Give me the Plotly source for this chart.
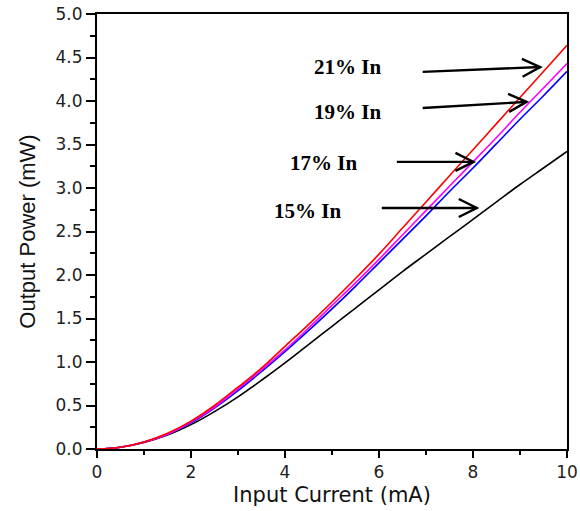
import plotly.graph_objects as go

# Input current (mA)
current = [0, 0.5, 1, 1.5, 2, 2.5, 3, 3.5, 4, 4.5, 5, 5.5, 6, 6.5, 7, 7.5, 8, 8.5, 9, 9.5, 10]

# Output power (mW) for each indium composition
p_in15 = [0, 0.02, 0.075, 0.16, 0.28, 0.43, 0.60, 0.79, 0.99, 1.20, 1.41, 1.62, 1.83, 2.04, 2.24, 2.44, 2.64, 2.84, 3.04, 3.23, 3.42]
p_in17 = [0, 0.02, 0.08, 0.17, 0.30, 0.47, 0.67, 0.89, 1.12, 1.36, 1.61, 1.87, 2.14, 2.41, 2.68, 2.96, 3.23, 3.51, 3.79, 4.06, 4.34]
p_in19 = [0, 0.02, 0.08, 0.17, 0.31, 0.48, 0.69, 0.91, 1.14, 1.39, 1.65, 1.91, 2.18, 2.46, 2.74, 3.02, 3.30, 3.58, 3.87, 4.15, 4.43]
p_in21 = [0, 0.02, 0.08, 0.18, 0.32, 0.50, 0.71, 0.93, 1.18, 1.43, 1.69, 1.96, 2.24, 2.54, 2.84, 3.14, 3.44, 3.74, 4.04, 4.34, 4.64]

series = [
    ("15% In", p_in15, "#000000"),
    ("17% In", p_in17, "#0000ff"),
    ("19% In", p_in19, "#ff00ff"),
    ("21% In", p_in21, "#ff0000"),
]

# Label text and arrow (tail -> head) positions in data units
labels = ["21% In", "19% In", "17% In", "15% In"]
label_x = [5.34, 5.34, 4.81, 4.47]
label_y = [4.39, 3.87, 3.29, 2.74]
tail_x = [6.93, 6.93, 6.38, 6.06]
tail_y = [4.335, 3.92, 3.30, 2.77]
head_x = [9.43, 9.14, 8.01, 8.08]
head_y = [4.39, 3.99, 3.30, 2.77]

W, H = 580, 511
M = dict(l=97, r=13, t=14, b=62)
X_RANGE = [0, 10]
Y_RANGE = [0, 5]
px_per_x = (W - M["l"] - M["r"]) / (X_RANGE[1] - X_RANGE[0])
px_per_y = (H - M["t"] - M["b"]) / (Y_RANGE[1] - Y_RANGE[0])

fig = go.Figure()
for name, ys, color in series:
    fig.add_trace(go.Scatter(
        x=current, y=ys, mode="lines", name=name,
        line=dict(color=color, width=1.6, shape="spline", smoothing=1.0),
        showlegend=False,
    ))

shapes = []
for tx, ty, hx, hy in zip(tail_x, tail_y, head_x, head_y):
    # shaft
    shapes.append(dict(type="line", xref="x", yref="y", x0=tx, y0=ty, x1=hx, y1=hy,
                       line=dict(color="black", width=2.4)))
    # open chevron head, built in pixel space then mapped back to data units
    dxp = (hx - tx) * px_per_x
    dyp = (hy - ty) * px_per_y
    n = (dxp ** 2 + dyp ** 2) ** 0.5
    ux, uy = dxp / n, dyp / n
    L, Wd = 18, 9
    pts = []
    for s in (1, -1):
        bx = -ux * L + s * (-uy) * Wd
        by = -uy * L + s * ux * Wd
        pts.append((hx + bx / px_per_x, hy + by / px_per_y))
    path = f"M{pts[0][0]},{pts[0][1]} L{hx},{hy} L{pts[1][0]},{pts[1][1]}"
    shapes.append(dict(type="path", xref="x", yref="y", path=path,
                       line=dict(color="black", width=2.4)))

annotations = [
    dict(x=lx, y=ly, xref="x", yref="y", text=f"<b>{t}</b>", showarrow=False,
         font=dict(family="Liberation Serif, Times New Roman, serif", size=21, color="black"))
    for t, lx, ly in zip(labels, label_x, label_y)
]

wide_font = "DejaVu Sans, Verdana, sans-serif"
tick_font = dict(family=wide_font, size=17, color="#222222")
fig.update_layout(
    width=W, height=H, margin=M,
    paper_bgcolor="white", plot_bgcolor="white",
    shapes=shapes, annotations=annotations,
    xaxis=dict(
        range=X_RANGE, tickmode="array", tickvals=[0, 2, 4, 6, 8, 10],
        ticks="outside", ticklen=7, tickwidth=1.5, tickcolor="black",
        minor=dict(tickvals=[1, 3, 5, 7, 9], ticks="outside", ticklen=4, tickwidth=1.5, tickcolor="black"),
        showline=True, linecolor="black", linewidth=2, mirror=True,
        showgrid=False, zeroline=False, tickfont=tick_font, automargin=False,
        title=dict(text="Input Current (mA)", font=dict(family=wide_font, size=21, color="#111111"), standoff=6),
    ),
    yaxis=dict(
        range=Y_RANGE, tickmode="array",
        tickvals=[0, 0.5, 1, 1.5, 2, 2.5, 3, 3.5, 4, 4.5, 5],
        ticktext=["0.0", "0.5", "1.0", "1.5", "2.0", "2.5", "3.0", "3.5", "4.0", "4.5", "5.0"],
        ticks="outside", ticklen=9, tickwidth=1.5, tickcolor="black",
        minor=dict(tickvals=[0.25, 0.75, 1.25, 1.75, 2.25, 2.75, 3.25, 3.75, 4.25, 4.75],
                   ticks="outside", ticklen=5, tickwidth=1.5, tickcolor="black"),
        showline=True, linecolor="black", linewidth=2, mirror=True,
        showgrid=False, zeroline=False, tickfont=tick_font, automargin=False,
        title=dict(text="Output Power (mW)", font=dict(family="Liberation Sans, Arial, sans-serif", size=22, color="#111111"), standoff=14),
    ),
)

fig.write_html("out.html")
